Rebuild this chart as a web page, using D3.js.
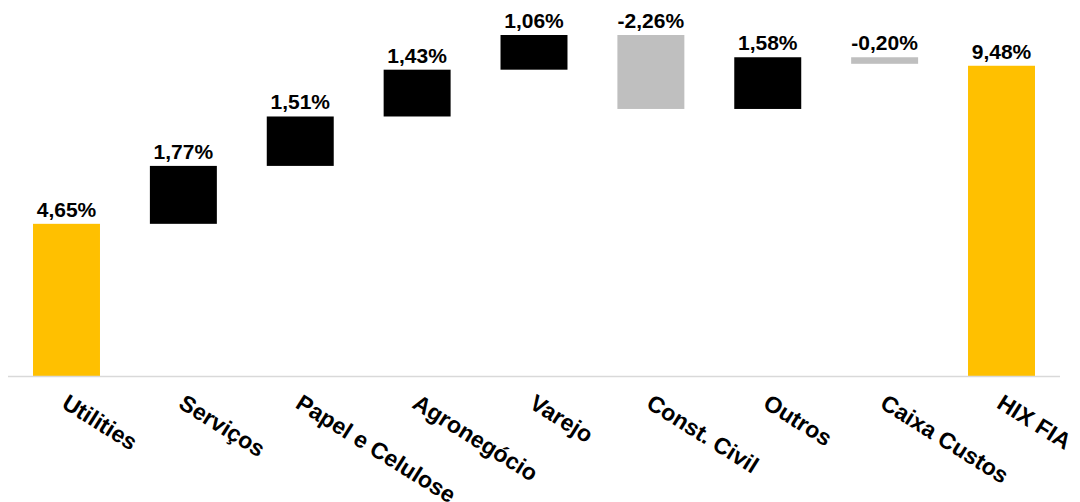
<!DOCTYPE html>
<html>
<head>
  <meta http-equiv="Content-Type" content="text/html;charset=utf-8" />
  <script src="https://cdn.jsdelivr.net/npm/d3@7"></script>
  <style type="text/css">
    body { margin: 0; background: #fff; }
    text { font-family: "Liberation Sans", Arial, sans-serif; font-weight: bold; }
  </style>
</head>
<body>
  <svg id="chart" width="1080" height="502"></svg>
  <script>
    // categories and contributions (%)
    const categories = ["Utilities", "Serviços", "Papel e Celulose", "Agronegócio", "Varejo",
      "Const. Civil", "Outros", "Caixa Custos", "HIX FIA"];
    const values = [4.65, 1.77, 1.51, 1.43, 1.06, -2.26, 1.58, -0.20, 9.48];
    const labels = ["4,65%", "1,77%", "1,51%", "1,43%", "1,06%", "-2,26%", "1,58%", "-0,20%", "9,48%"];
    const kinds = ["total", "step", "step", "step", "step", "step", "step", "step", "total"];

    const width = 1080, height = 502;
    const baseY = 376;

    // build waterfall segments
    let run = 0;
    const bars = categories.map((c, i) => {
      let y0, y1;
      if (kinds[i] === "total") {
        y0 = 0; y1 = values[i];
        run = values[i];
      } else {
        y0 = run; y1 = run + values[i];
        run = y1;
      }
      return { cat: c, v: values[i], label: labels[i], kind: kinds[i],
        lo: Math.min(y0, y1), hi: Math.max(y0, y1) };
    });

    const x = d3.scaleBand().domain(categories).range([8, 1060]).paddingInner(0.427).paddingOuter(0.214);
    const y = d3.scaleLinear().domain([0, 10.42]).range([baseY, 35]);

    const svg = d3.select("#chart");

    const color = d => d.kind === "total" ? "#FFC000" : (d.v < 0 ? "#BFBFBF" : "#000000");

    svg.append("g").selectAll("rect")
      .data(bars)
      .join("rect")
      .attr("x", d => x(d.cat))
      .attr("width", x.bandwidth())
      .attr("y", d => y(d.hi))
      .attr("height", d => y(d.lo) - y(d.hi))
      .attr("fill", color);

    // axis line
    svg.append("line")
      .attr("x1", 8).attr("x2", 1060)
      .attr("y1", baseY + 0.5).attr("y2", baseY + 0.5)
      .attr("stroke", "#d9d9d9").attr("stroke-width", 1.5);

    // value labels
    svg.append("g").selectAll("text")
      .data(bars)
      .join("text")
      .attr("x", d => x(d.cat) + x.bandwidth() / 2)
      .attr("y", d => y(d.hi) - 7)
      .attr("text-anchor", "middle")
      .attr("font-size", 21)
      .attr("fill", "#000")
      .text(d => d.label);

    // rotated category labels
    svg.append("g").selectAll("text")
      .data(categories)
      .join("text")
      .attr("transform", d => `translate(${x(d) + x.bandwidth() / 2 - 6},${407}) rotate(32)`)
      .attr("font-size", 23)
      .attr("fill", "#000")
      .text(d => d);
  </script>
</body>
</html>
